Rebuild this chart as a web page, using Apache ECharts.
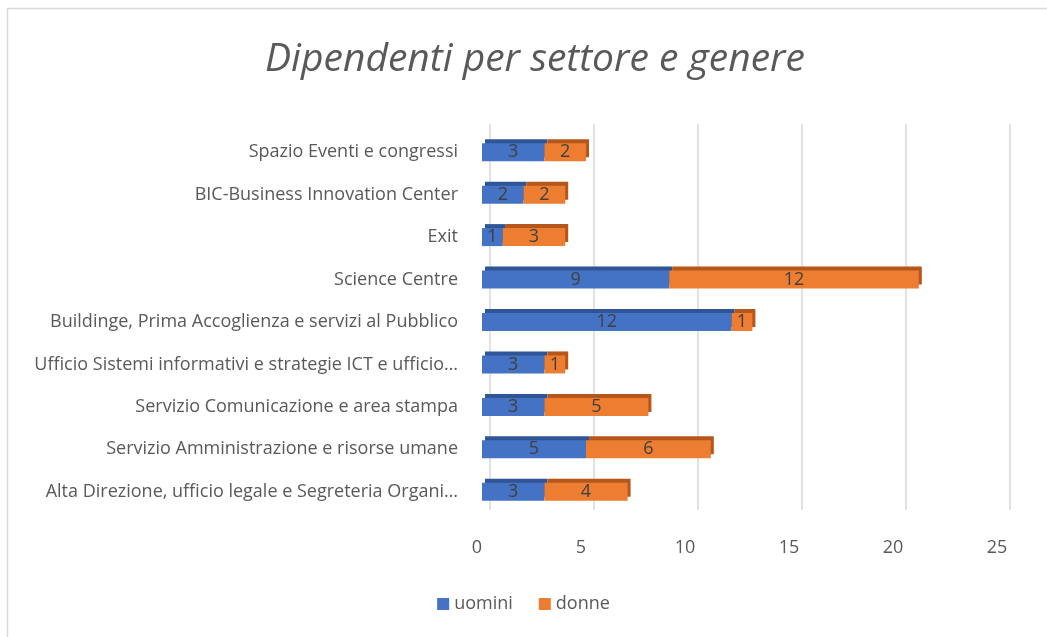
<!DOCTYPE html>
<html>
<head>
<meta charset="utf-8">
<script src="https://cdn.jsdelivr.net/npm/echarts@6/dist/echarts.min.js"></script>
<style>
html,body{margin:0;padding:0;background:#fff;}
#c{width:1047px;height:637px;}
</style>
</head>
<body>
<div id="c"></div>
<script>
var categories = [
  "Alta Direzione, ufficio legale e Segreteria Organi…",
  "Servizio Amministrazione e risorse umane",
  "Servizio Comunicazione e area stampa",
  "Ufficio Sistemi informativi e strategie ICT e ufficio…",
  "Buildinge, Prima Accoglienza e servizi al Pubblico",
  "Science Centre",
  "Exit",
  "BIC-Business Innovation Center",
  "Spazio Eventi e congressi"
];
var uomini = [3, 5, 3, 3, 12, 9, 1, 2, 3];
var donne = [4, 6, 5, 1, 1, 12, 3, 2, 2];
var xTicks = [0, 5, 10, 15, 20, 25];

var chart = echarts.init(document.getElementById('c'), null, {renderer: 'canvas'});
var font = '"Open Sans", "Noto Sans", sans-serif';
var option = {
  backgroundColor: '#ffffff',
  animation: false,
  title: {
    text: 'Dipendenti per settore e genere',
    left: 530, top: 35, textAlign: 'center',
    textStyle: {
      fontFamily: font,
      fontStyle: 'italic', fontWeight: 'normal', fontSize: 39, color: '#595959'
    }
  },
  graphic: [{
    type: 'rect', shape: {x: 7.5, y: 8.5, width: 1060, height: 650},
    style: {fill: 'none', stroke: '#d9d9d9', lineWidth: 1.5}, silent: true, z: -1
  }],
  legend: {
    bottom: 19, left: 'center', itemWidth: 12, itemHeight: 12, itemGap: 26,
    icon: 'rect',
    textStyle: {fontFamily: font, fontSize: 18, color: '#595959'},
    data: ['uomini', 'donne']
  },
  grid: [
    {left: 482, right: 45, top: 131, bottom: 124},
    {left: 490, right: 37, top: 124, bottom: 127}
  ],
  xAxis: [
    {
      type: 'value', gridIndex: 0, min: xTicks[0], max: xTicks[xTicks.length - 1], interval: 5,
      axisLine: {show: false}, axisTick: {show: false}, splitLine: {show: false},
      axisLabel: {fontFamily: font, fontSize: 18, color: '#595959', margin: 26, padding: [0, 10, 0, 0]}
    },
    {
      type: 'value', gridIndex: 1, min: xTicks[0], max: xTicks[xTicks.length - 1], interval: 5,
      axisLine: {show: false}, axisTick: {show: false}, axisLabel: {show: false},
      splitLine: {show: true, lineStyle: {color: '#d9d9d9', width: 1.5}}
    }
  ],
  yAxis: [
    {
      type: 'category', gridIndex: 0, data: categories,
      axisLine: {show: false}, axisTick: {show: false},
      axisLabel: {fontFamily: font, fontSize: 18, color: '#595959', margin: 24}
    },
    {
      type: 'category', gridIndex: 1, data: categories,
      axisLine: {show: false}, axisTick: {show: false}, axisLabel: {show: false}
    }
  ],
  series: [
    {
      name: 'uomini', type: 'bar', stack: 'tot', xAxisIndex: 0, yAxisIndex: 0,
      data: uomini, barWidth: 18,
      itemStyle: {color: '#4472C4', shadowColor: '#2F5597', shadowOffsetX: 3, shadowOffsetY: -4, shadowBlur: 0},
      label: {show: true, position: 'inside', fontFamily: font, fontSize: 18, color: '#404040'}
    },
    {
      name: 'donne', type: 'bar', stack: 'tot', xAxisIndex: 0, yAxisIndex: 0,
      data: donne, barWidth: 18,
      itemStyle: {color: '#ED7D31', shadowColor: '#B5561A', shadowOffsetX: 3, shadowOffsetY: -4, shadowBlur: 0},
      label: {show: true, position: 'inside', fontFamily: font, fontSize: 18, color: '#404040'}
    }
  ]
};
chart.setOption(option);
</script>
</body>
</html>
